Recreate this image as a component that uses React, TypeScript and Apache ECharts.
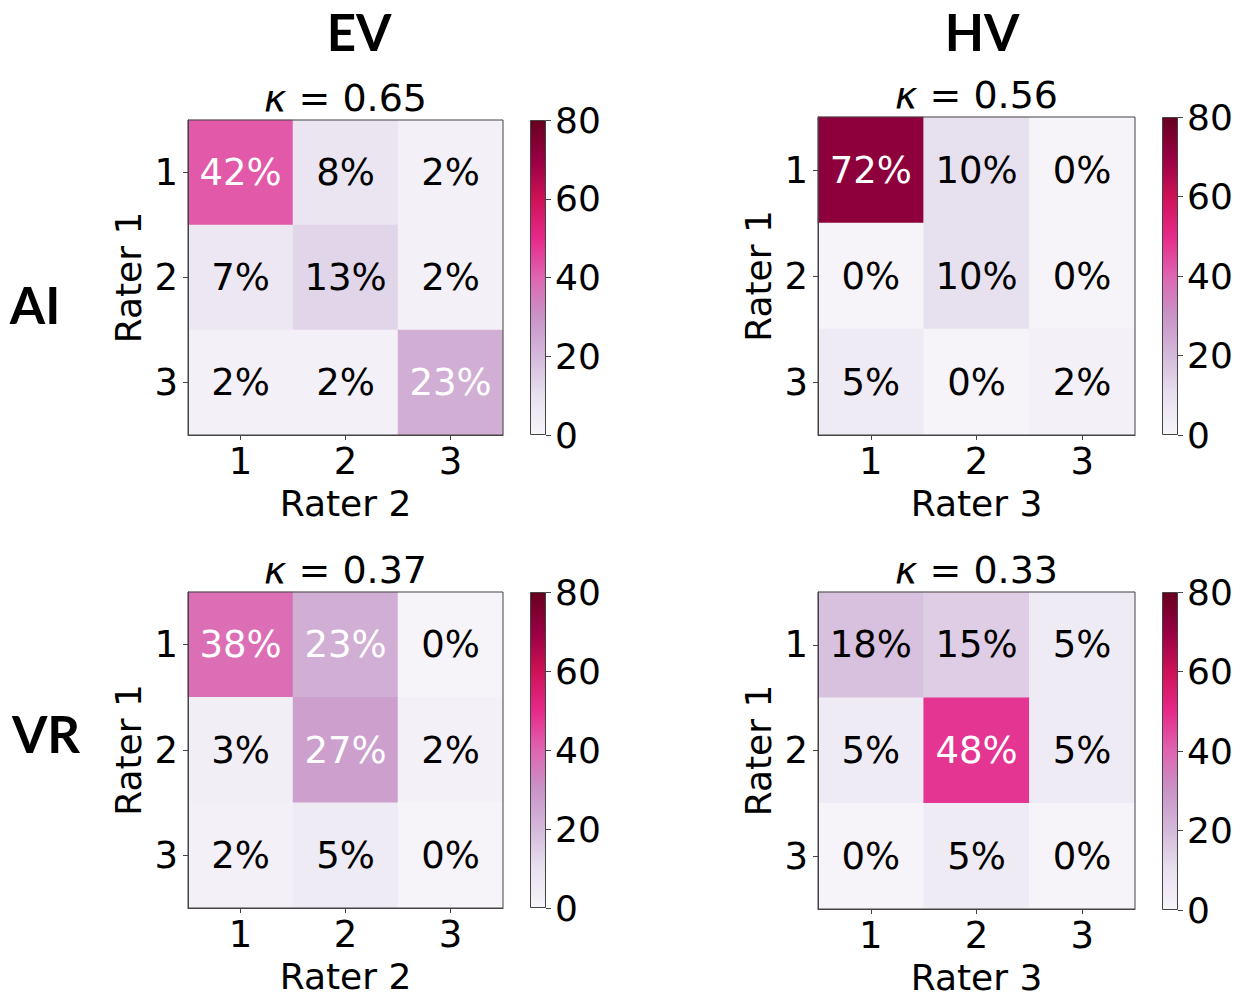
import React, { useEffect, useRef } from "react";
import * as echarts from "echarts";

// ---- data ----
const RATER_TICKS = ["1", "2", "3"];
const EV_AI = [
  [42, 8, 2],
  [7, 13, 2],
  [2, 2, 23],
];
const HV_AI = [
  [72, 10, 0],
  [0, 10, 0],
  [5, 0, 2],
];
const EV_VR = [
  [38, 23, 0],
  [3, 27, 2],
  [2, 5, 0],
];
const HV_VR = [
  [18, 15, 5],
  [5, 48, 5],
  [0, 5, 0],
];
const KAPPAS = ["0.65", "0.56", "0.37", "0.33"];
const X_NAMES = ["Rater 2", "Rater 3", "Rater 2", "Rater 3"];
const Y_NAME = "Rater 1";
const CBAR_MIN = 0;
const CBAR_MAX = 80;
const CBAR_STEP = 20;
const COL_TITLES = ["EV", "HV"];
const ROW_TITLES = ["AI", "VR"];

const PURD = [
  "#f7f4f9",
  "#e7e1ef",
  "#d4b9da",
  "#c994c7",
  "#df65b0",
  "#e7298a",
  "#ce1256",
  "#980043",
  "#67001f",
];

const MATRICES = [EV_AI, HV_AI, EV_VR, HV_VR];

// ---- layout ----
const PANELS = [
  { left: 188, top: 120, w: 315, h: 315, cbLeft: 530, cbTop: 120, cbH: 315 },
  { left: 818, top: 117, w: 317, h: 318, cbLeft: 1162, cbTop: 117, cbH: 318 },
  { left: 188, top: 592, w: 315, h: 316, cbLeft: 530, cbTop: 592, cbH: 316 },
  { left: 818, top: 592, w: 317, h: 318, cbLeft: 1162, cbTop: 592, cbH: 318 },
];

const FONT = "DejaVu Sans";

export default function App() {
  const ref = useRef<HTMLDivElement>(null);

  useEffect(() => {
    if (!ref.current) return;
    const chart = echarts.init(ref.current, undefined, { renderer: "svg" });

    const grids: any[] = [];
    const xAxes: any[] = [];
    const yAxes: any[] = [];
    const series: any[] = [];
    const titles: any[] = [];

    PANELS.forEach((p, i) => {
      grids.push({
        left: p.left,
        top: p.top,
        width: p.w,
        height: p.h,
        show: true,
        z: 10,
        backgroundColor: "transparent",
        borderColor: "#444",
        borderWidth: 1,
      });
      const gi = grids.length - 1;
      xAxes.push({
        gridIndex: gi,
        type: "category",
        data: RATER_TICKS,
        position: "bottom",
        z: 10,
        name: X_NAMES[i],
        nameLocation: "middle",
        nameGap: 50,
        nameTextStyle: { fontFamily: FONT, fontSize: 36, color: "#000" },
        axisLine: { show: true, lineStyle: { color: "#444", width: 1 } },
        axisTick: { show: true, alignWithLabel: true, length: 5, lineStyle: { color: "#444" } },
        axisLabel: { fontFamily: FONT, fontSize: 37, color: "#000", margin: 8 },
        splitLine: { show: false },
      });
      yAxes.push({
        gridIndex: gi,
        type: "category",
        data: RATER_TICKS,
        inverse: true,
        z: 10,
        name: Y_NAME,
        nameLocation: "middle",
        nameGap: 42,
        nameTextStyle: { fontFamily: FONT, fontSize: 36, color: "#000" },
        axisLine: { show: true, lineStyle: { color: "#444", width: 1 } },
        axisTick: { show: true, alignWithLabel: true, length: 5, lineStyle: { color: "#444" } },
        axisLabel: { fontFamily: FONT, fontSize: 37, color: "#000", margin: 10 },
        splitLine: { show: false },
      });
      const m = MATRICES[i];
      const data: any[] = [];
      m.forEach((row, r) => {
        row.forEach((v, c) => {
          data.push({
            value: [c, r, v],
            label: { color: v > 20 ? "#ffffff" : "#000000" },
          });
        });
      });
      series.push({
        type: "heatmap",
        xAxisIndex: gi,
        yAxisIndex: gi,
        data,
        label: {
          show: true,
          fontFamily: FONT,
          fontSize: 37,
          formatter: (q: any) => q.value[2] + "%",
        },
        emphasis: { disabled: true },
      });

      grids.push({
        left: p.cbLeft,
        top: p.cbTop,
        width: 16,
        height: p.cbH,
      });
      const ci = grids.length - 1;
      xAxes.push({
        gridIndex: ci,
        type: "category",
        data: [""],
        show: false,
        boundaryGap: true,
      });
      yAxes.push({
        gridIndex: ci,
        type: "value",
        position: "right",
        min: CBAR_MIN,
        max: CBAR_MAX,
        interval: CBAR_STEP,
        z: 10,
        axisLine: { show: false },
        axisTick: { show: true, length: 5, lineStyle: { color: "#444" } },
        axisLabel: { fontFamily: FONT, fontSize: 36, color: "#000", margin: 9 },
        splitLine: { show: false },
      });
      series.push({
        type: "bar",
        xAxisIndex: ci,
        yAxisIndex: ci,
        barWidth: "100%",
        data: [CBAR_MAX],
        silent: true,
        itemStyle: {
          color: new echarts.graphic.LinearGradient(
            0,
            1,
            0,
            0,
            PURD.map((c, k) => ({ offset: k / (PURD.length - 1), color: c }))
          ),
          borderColor: "#444",
          borderWidth: 1,
        },
      });

      titles.push({
        text: "{i|κ} = " + KAPPAS[i],
        left: p.left + p.w / 2,
        top: p.top - 41,
        textAlign: "center",
        padding: 0,
        textStyle: {
          fontFamily: FONT,
          fontSize: 38,
          fontWeight: "normal",
          color: "#000",
          rich: {
            i: { fontFamily: FONT, fontSize: 38, fontStyle: "italic", color: "#000" },
          },
        },
      });
    });

    const bigStyle = { fontFamily: "Lato", fontSize: 51, fontWeight: "bold", color: "#000" };
    titles.push({ text: COL_TITLES[0], left: 359, top: 6, textAlign: "center", padding: 0, textStyle: bigStyle });
    titles.push({ text: COL_TITLES[1], left: 982, top: 6, textAlign: "center", padding: 0, textStyle: bigStyle });
    titles.push({ text: ROW_TITLES[0], left: 35, top: 279, textAlign: "center", padding: 0, textStyle: bigStyle });
    titles.push({ text: ROW_TITLES[1], left: 46, top: 708, textAlign: "center", padding: 0, textStyle: bigStyle });

    chart.setOption({
      animation: false,
      backgroundColor: "#ffffff",
      title: titles,
      grid: grids,
      xAxis: xAxes,
      yAxis: yAxes,
      visualMap: {
        show: false,
        type: "continuous",
        min: CBAR_MIN,
        max: CBAR_MAX,
        seriesIndex: [0, 2, 4, 6],
        dimension: 2,
        inRange: { color: PURD },
      },
      series,
    });

    return () => chart.dispose();
  }, []);

  return (
    <div
      ref={ref}
      style={{ position: "absolute", left: 0, top: 0, width: 1245, height: 996 }}
    />
  );
}
